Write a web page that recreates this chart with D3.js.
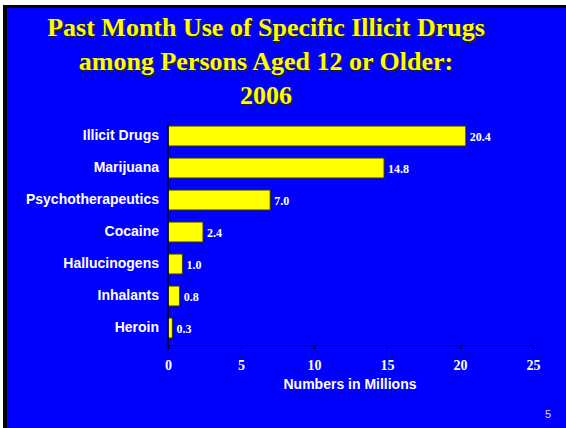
<!DOCTYPE html>
<html><head><meta charset="utf-8">
<script src="https://cdn.jsdelivr.net/npm/d3@7"></script>
<style>html,body{margin:0;padding:0;background:#fff;overflow:hidden}</style>
</head><body>
<script>
const categories = ["Illicit Drugs","Marijuana","Psychotherapeutics","Cocaine","Hallucinogens","Inhalants","Heroin"];
const values = [20.4, 14.8, 7.0, 2.4, 1.0, 0.8, 0.3];
const tickValues = [0, 5, 10, 15, 20, 25];
const titleLines = ["Past Month Use of Specific Illicit Drugs","among Persons Aged 12 or Older:","2006"];
const axisTitle = "Numbers in Millions";
const pageNumber = "5";

const W = 566, H = 428;
const svg = d3.select("body").append("svg").attr("width", W).attr("height", H);

svg.append("rect").attr("x",3).attr("y",5).attr("width",W-3).attr("height",H-5).attr("fill","#000");
svg.append("rect").attr("x",7).attr("y",8).attr("width",W-7).attr("height",H-8).attr("fill","#0000FF");

// Title with shadow
const tg = svg.append("g");
titleLines.forEach((t,i)=>{
  const yy = 36 + i*34;
  tg.append("text").attr("x",267.5).attr("y",yy+1.5).attr("text-anchor","middle")
    .attr("font-family","'Liberation Serif','Times New Roman',serif").attr("font-weight","bold")
    .attr("font-size",26).attr("fill","#222").text(t);
  tg.append("text").attr("x",266).attr("y",yy).attr("text-anchor","middle")
    .attr("font-family","'Liberation Serif','Times New Roman',serif").attr("font-weight","bold")
    .attr("font-size",26).attr("fill","#FFFF00").text(t);
});

const x = d3.scaleLinear().domain([0,25]).range([168,533]);
const y = d3.scaleBand().domain(categories).range([120,344]).paddingInner(0.375).paddingOuter(0.1875);

const data = categories.map((c,i)=>({c, v: values[i]}));

svg.append("g").selectAll("rect").data(data).join("rect")
  .attr("x", x(0)).attr("y", d=>y(d.c)).attr("width", d=>x(d.v)-x(0)).attr("height", y.bandwidth())
  .attr("fill","#FFFF00").attr("stroke","#333300").attr("stroke-width",1);

svg.append("g").selectAll("text").data(data).join("text")
  .attr("x", d=>x(d.v)+4).attr("y", d=>y(d.c)+y.bandwidth()/2+4.5)
  .attr("font-family","'Liberation Serif','Times New Roman',serif").attr("font-weight","bold")
  .attr("font-size",12).attr("fill","#fff").text(d=>d.v.toFixed(1));

// Y axis
const ya = svg.append("g").attr("transform",`translate(${x(0)},0)`).call(d3.axisLeft(y).tickSize(0).tickPadding(9));
ya.select(".domain").attr("stroke","#000").attr("stroke-width",1.5).attr("d",`M0,123V345`);
ya.selectAll("text").attr("font-family","'Liberation Sans',Arial,sans-serif").attr("font-weight","bold")
  .attr("font-size",14).attr("fill","#fff");

// X axis
const xa = svg.append("g").attr("transform",`translate(0,345)`).call(d3.axisBottom(x).tickValues(tickValues).tickSize(4).tickPadding(11).tickSizeOuter(4));
xa.select(".domain").attr("stroke","#000").attr("stroke-width",1.2);
xa.selectAll("line").attr("stroke","#000");
xa.selectAll("text").attr("font-family","'Liberation Serif','Times New Roman',serif").attr("font-weight","bold")
  .attr("font-size",14).attr("fill","#fff");

svg.append("text").attr("x",350).attr("y",389).attr("text-anchor","middle")
  .attr("font-family","'Liberation Sans',Arial,sans-serif").attr("font-weight","bold")
  .attr("font-size",14).attr("fill","#fff").text(axisTitle);

svg.append("text").attr("x",548).attr("y",418).attr("text-anchor","middle")
  .attr("font-family","'Liberation Sans',Arial,sans-serif")
  .attr("font-size",11).attr("fill","#ddd").text(pageNumber);
</script>
</body></html>
